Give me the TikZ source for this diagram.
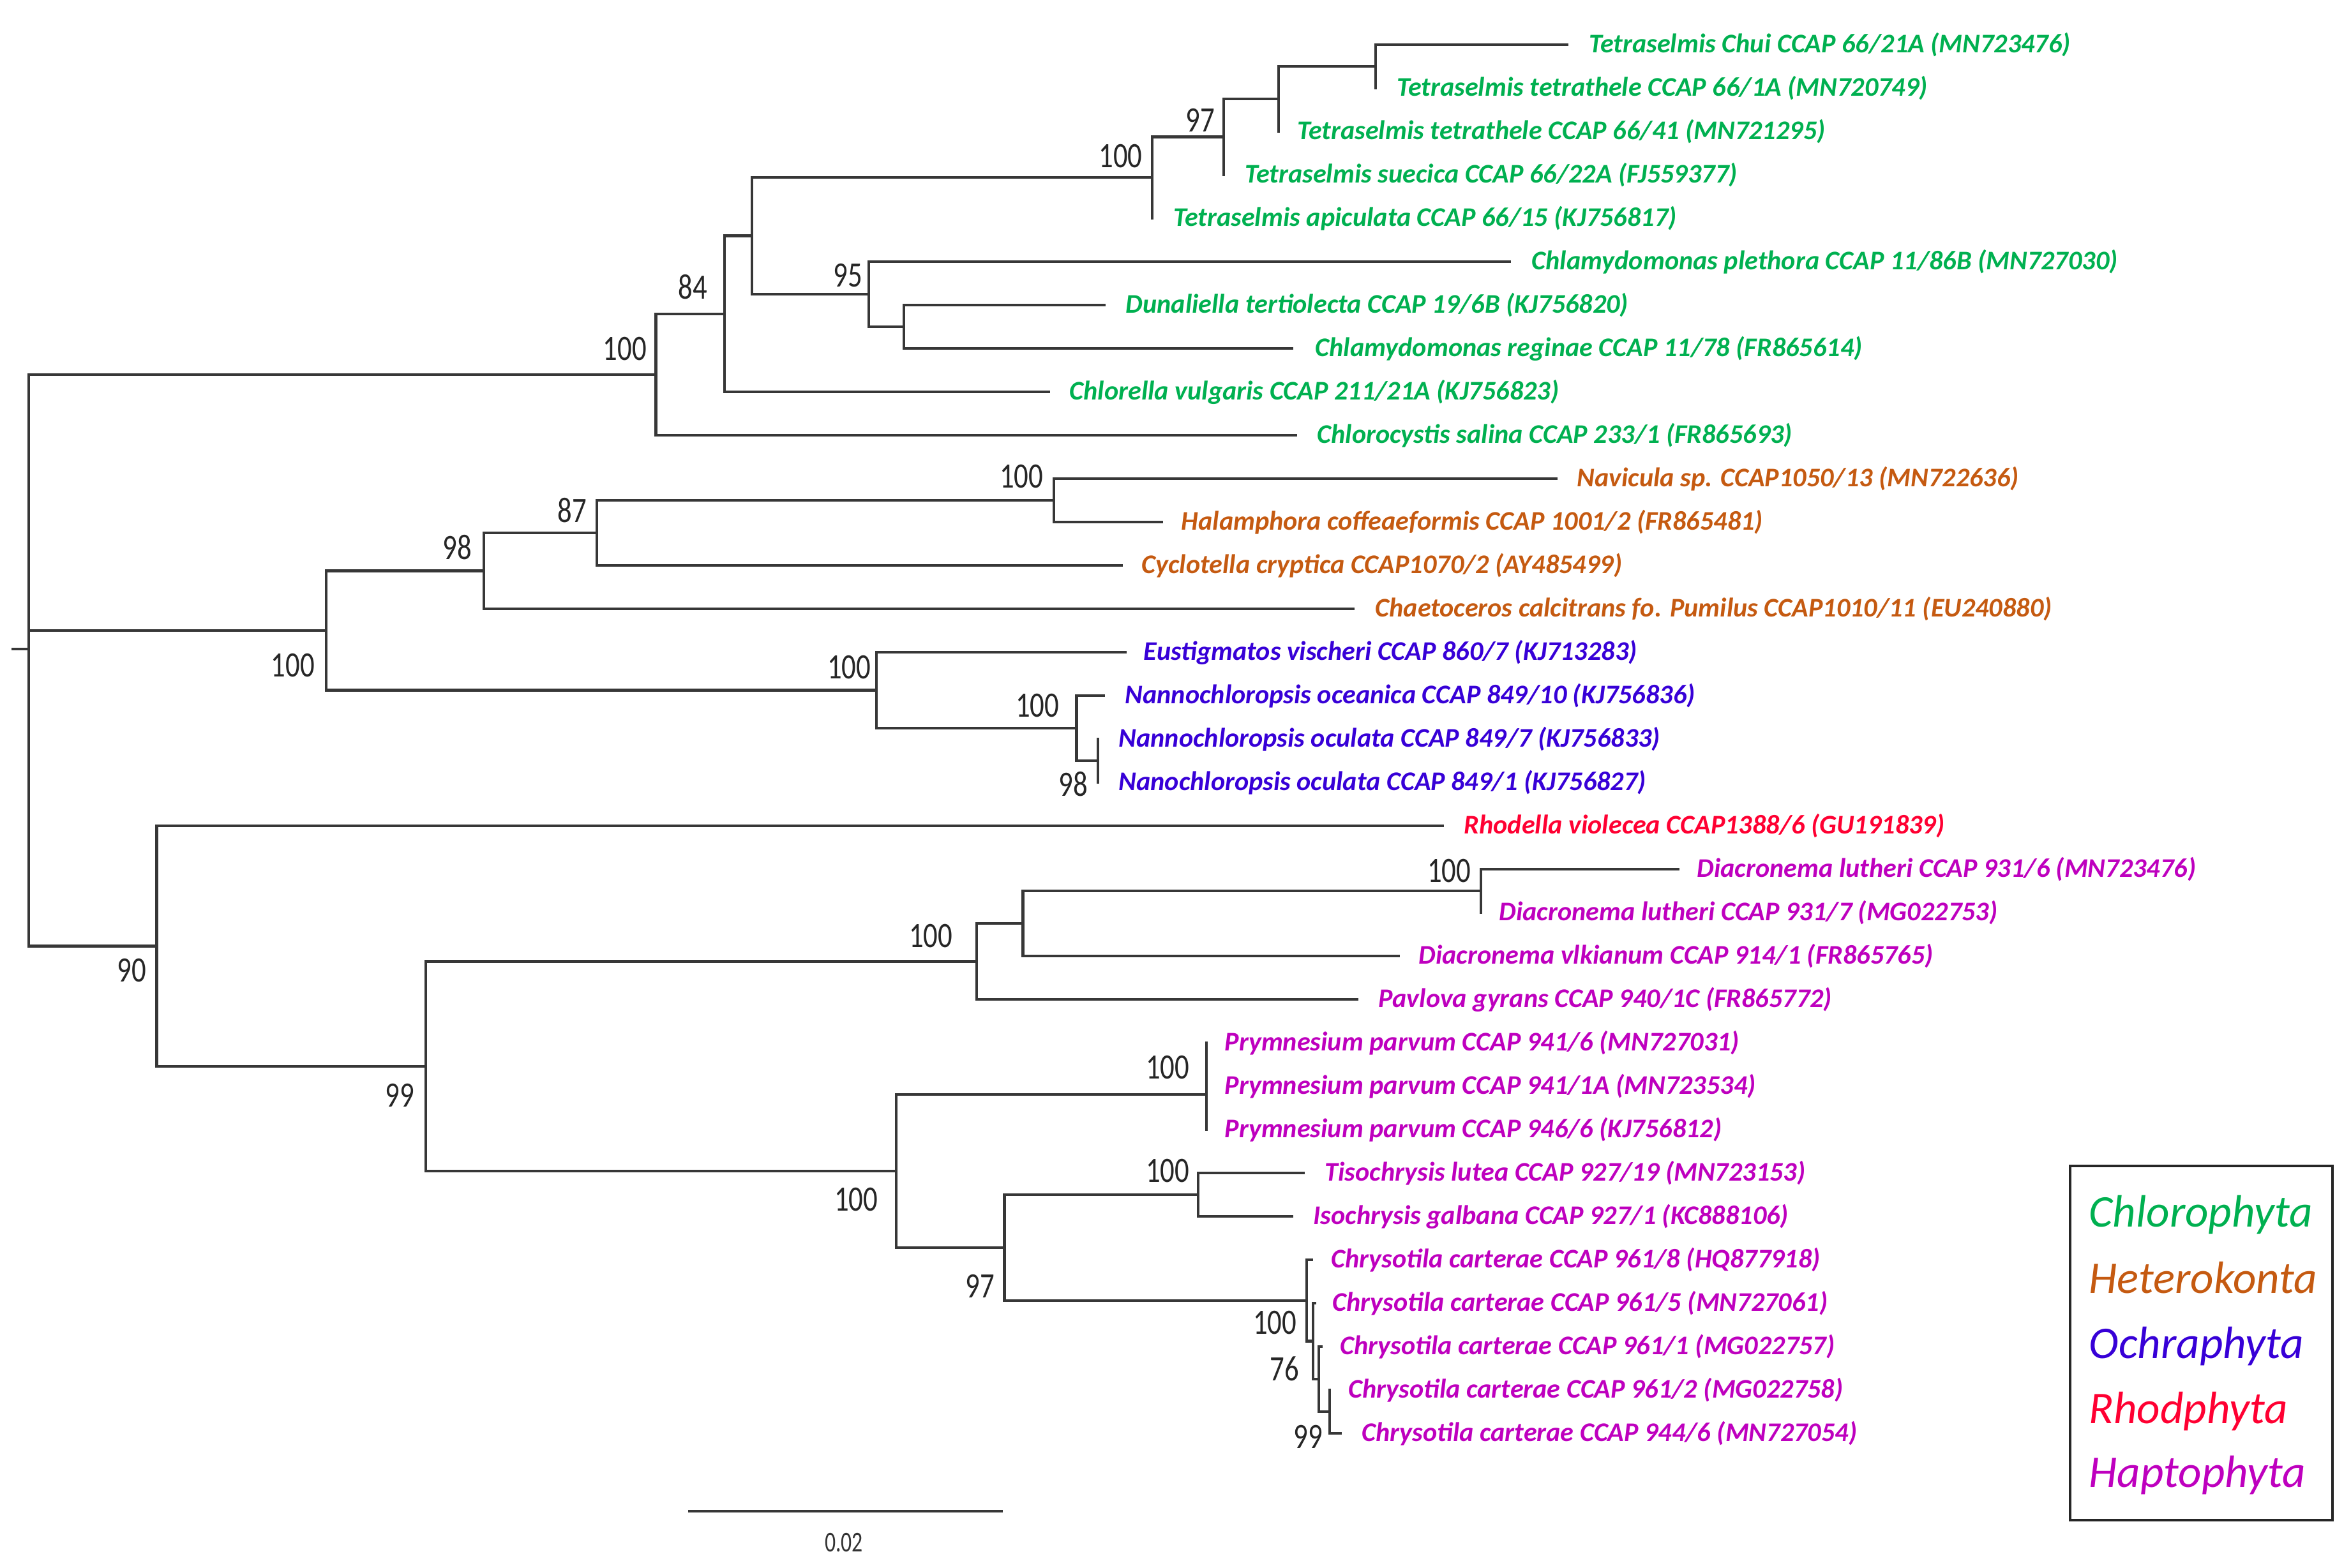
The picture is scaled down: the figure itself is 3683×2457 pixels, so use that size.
\documentclass[tikz,border=0pt]{standalone}
\usepackage{fontspec}
\setmainfont{Carlito}
\newfontfamily\bsfam[FakeStretch=0.8]{Carlito}
\newfontfamily\scfam[FakeStretch=0.75]{Carlito}
\newcommand\leaffont{\fontsize{12pt}{14pt}\selectfont\bfseries\itshape}
\newcommand\bsfont{\bsfam\fontsize{15.9pt}{18pt}\selectfont}
\newcommand\legfont{\fontsize{20.2pt}{24pt}\selectfont\itshape}
\definecolor{treegray}{RGB}{55,55,55}
\definecolor{cgreen}{RGB}{0,176,80}
\definecolor{corange}{RGB}{197,90,17}
\definecolor{cblue}{RGB}{55,0,215}
\definecolor{cred}{RGB}{255,0,50}
\definecolor{cmag}{RGB}{190,0,190}
\tikzset{
  br/.style={draw=treegray, line width=1.2pt, line cap=rect},
  lf/.style={anchor=base west, inner sep=0pt, font=\leaffont},
  bs/.style={anchor=center, inner sep=0pt, font=\bsfont, text=black!85},
  lg/.style={anchor=base west, inner sep=0pt, font=\legfont},
}
\begin{document}
\begin{tikzpicture}[x=0.01cm,y=-0.01cm]
\useasboundingbox (0,0) rectangle (3683,2457);
% internal nodes
\coordinate (root) at (45,1017);
\coordinate (rs) at (20,1017);
\coordinate (CH) at (1027.5,587);
\coordinate (C0) at (1135,492);
\coordinate (C1) at (1178,369.5);
\coordinate (T1) at (1805,278);
\coordinate (T2) at (1917,214.5);
\coordinate (T3) at (2003,155);
\coordinate (T4) at (2155,104);
\coordinate (C2) at (1361,461);
\coordinate (C3) at (1416,512);
\coordinate (HO) at (511,988);
\coordinate (H1) at (758,894.5);
\coordinate (H2) at (935,835);
\coordinate (H3) at (1651,784);
\coordinate (O1) at (1373,1081.5);
\coordinate (O2) at (1686.5,1141);
\coordinate (O3) at (1720,1192);
\coordinate (R) at (245.5,1482.5);
\coordinate (HP) at (667,1671);
\coordinate (P1) at (1530,1506.5);
\coordinate (P2) at (1602.5,1447);
\coordinate (P3) at (2320,1396);
\coordinate (Y0) at (1404,1835);
\coordinate (Y1) at (1890,1715);
\coordinate (Y2) at (1573.5,1955);
\coordinate (Y3) at (1877,1872);
\coordinate (Z1) at (2047,2038);
\coordinate (Z2) at (2057,2101.5);
\coordinate (Z3) at (2066,2161);
\coordinate (Z4) at (2083,2212);
% leaf tips
\coordinate (t1) at (2455,70);
\coordinate (t2) at (2155,138);
\coordinate (t3) at (2003,206);
\coordinate (t4) at (1917,274);
\coordinate (t5) at (1805,342);
\coordinate (t6) at (2365,410);
\coordinate (t7) at (1730,478);
\coordinate (t8) at (2024,546);
\coordinate (t9) at (1643,614);
\coordinate (t10) at (2030,682);
\coordinate (t11) at (2438,750);
\coordinate (t12) at (1820,818);
\coordinate (t13) at (1757,886);
\coordinate (t14) at (2120,954);
\coordinate (t15) at (1763,1022);
\coordinate (t16) at (1729,1090);
\coordinate (t17) at (1720,1158);
\coordinate (t18) at (1720,1226);
\coordinate (t19) at (2260,1294);
\coordinate (t20) at (2629,1362);
\coordinate (t21) at (2320,1430);
\coordinate (t22) at (2191,1498);
\coordinate (t23) at (2126,1566);
\coordinate (t24) at (1890,1634);
\coordinate (t25) at (1890,1702);
\coordinate (t26) at (1890,1770);
\coordinate (t27) at (2042,1838);
\coordinate (t28) at (2024,1906);
\coordinate (t29) at (2055,1974);
\coordinate (t30) at (2060,2042);
\coordinate (t31) at (2070,2110);
\coordinate (t32) at (2083,2178);
\coordinate (t33) at (2100,2246);
% branches
\draw[br] (rs) -- (root);
\draw[br] (root) |- (CH); \draw[br] (root) |- (HO); \draw[br] (root) |- (R);
\draw[br] (CH) |- (C0); \draw[br] (CH) |- (t10);
\draw[br] (C0) |- (C1); \draw[br] (C0) |- (t9);
\draw[br] (C1) |- (T1); \draw[br] (C1) |- (C2);
\draw[br] (T1) |- (T2); \draw[br] (T1) |- (t5);
\draw[br] (T2) |- (T3); \draw[br] (T2) |- (t4);
\draw[br] (T3) |- (T4); \draw[br] (T3) |- (t3);
\draw[br] (T4) |- (t1); \draw[br] (T4) |- (t2);
\draw[br] (C2) |- (t6); \draw[br] (C2) |- (C3);
\draw[br] (C3) |- (t7); \draw[br] (C3) |- (t8);
\draw[br] (HO) |- (H1); \draw[br] (HO) |- (O1);
\draw[br] (H1) |- (H2); \draw[br] (H1) |- (t14);
\draw[br] (H2) |- (H3); \draw[br] (H2) |- (t13);
\draw[br] (H3) |- (t11); \draw[br] (H3) |- (t12);
\draw[br] (O1) |- (t15); \draw[br] (O1) |- (O2);
\draw[br] (O2) |- (t16); \draw[br] (O2) |- (O3);
\draw[br] (O3) |- (t17); \draw[br] (O3) |- (t18);
\draw[br] (R) |- (t19); \draw[br] (R) |- (HP);
\draw[br] (HP) |- (P1); \draw[br] (HP) |- (Y0);
\draw[br] (P1) |- (P2); \draw[br] (P1) |- (t23);
\draw[br] (P2) |- (P3); \draw[br] (P2) |- (t22);
\draw[br] (P3) |- (t20); \draw[br] (P3) |- (t21);
\draw[br] (Y0) |- (Y1); \draw[br] (Y0) |- (Y2);
\draw[br] (Y1) |- (t24); \draw[br] (Y1) |- (t26);
\draw[br] (Y2) |- (Y3); \draw[br] (Y2) |- (Z1);
\draw[br] (Y3) |- (t27); \draw[br] (Y3) |- (t28);
\draw[br] (Z1) |- (t29); \draw[br] (Z1) |- (Z2);
\draw[br] (Z2) |- (t30); \draw[br] (Z2) |- (Z3);
\draw[br] (Z3) |- (t31); \draw[br] (Z3) |- (Z4);
\draw[br] (Z4) |- (t32); \draw[br] (Z4) |- (t33);
% leaf labels
\node[lf,text=cgreen] (l1) at (2489,82) {Tetraselmis Chui CCAP 66/21A (MN723476)};
\node[lf,text=cgreen] (l2) at (2188,150) {Tetraselmis tetrathele CCAP 66/1A (MN720749)};
\node[lf,text=cgreen] (l3) at (2032,218) {Tetraselmis tetrathele CCAP 66/41 (MN721295)};
\node[lf,text=cgreen] (l4) at (1950,286) {Tetraselmis suecica CCAP 66/22A (FJ559377)};
\node[lf,text=cgreen] (l5) at (1838,354) {Tetraselmis apiculata CCAP 66/15 (KJ756817)};
\node[lf,text=cgreen] (l6) at (2399,422) {Chlamydomonas plethora CCAP 11/86B (MN727030)};
\node[lf,text=cgreen] (l7) at (1763,490) {Dunaliella tertiolecta CCAP 19/6B (KJ756820)};
\node[lf,text=cgreen] (l8) at (2060,558) {Chlamydomonas reginae CCAP 11/78 (FR865614)};
\node[lf,text=cgreen] (l9) at (1675,626) {Chlorella vulgaris CCAP 211/21A (KJ756823)};
\node[lf,text=cgreen] (l10) at (2063,694) {Chlorocystis salina CCAP 233/1 (FR865693)};
\node[lf,text=corange] (l11) at (2470,762) {Navicula sp. CCAP1050/13 (MN722636)};
\node[lf,text=corange] (l12) at (1850,830) {Halamphora coffeaeformis CCAP 1001/2 (FR865481)};
\node[lf,text=corange] (l13) at (1788,898) {Cyclotella cryptica CCAP1070/2 (AY485499)};
\node[lf,text=corange] (l14) at (2154,966) {Chaetoceros calcitrans fo. Pumilus CCAP1010/11 (EU240880)};
\node[lf,text=cblue] (l15) at (1791,1034) {Eustigmatos vischeri CCAP 860/7 (KJ713283)};
\node[lf,text=cblue] (l16) at (1762,1102) {Nannochloropsis oceanica CCAP 849/10 (KJ756836)};
\node[lf,text=cblue] (l17) at (1752,1170) {Nannochloropsis oculata CCAP 849/7 (KJ756833)};
\node[lf,text=cblue] (l18) at (1752,1238) {Nanochloropsis oculata CCAP 849/1 (KJ756827)};
\node[lf,text=cred] (l19) at (2293,1306) {Rhodella violecea CCAP1388/6 (GU191839)};
\node[lf,text=cmag] (l20) at (2658,1374) {Diacronema lutheri CCAP 931/6 (MN723476)};
\node[lf,text=cmag] (l21) at (2348,1442) {Diacronema lutheri CCAP 931/7 (MG022753)};
\node[lf,text=cmag] (l22) at (2222,1510) {Diacronema vlkianum CCAP 914/1 (FR865765)};
\node[lf,text=cmag] (l23) at (2159,1578) {Pavlova gyrans CCAP 940/1C (FR865772)};
\node[lf,text=cmag] (l24) at (1918,1646) {Prymnesium parvum CCAP 941/6 (MN727031)};
\node[lf,text=cmag] (l25) at (1918,1714) {Prymnesium parvum CCAP 941/1A (MN723534)};
\node[lf,text=cmag] (l26) at (1918,1782) {Prymnesium parvum CCAP 946/6 (KJ756812)};
\node[lf,text=cmag] (l27) at (2075,1850) {Tisochrysis lutea CCAP 927/19 (MN723153)};
\node[lf,text=cmag] (l28) at (2057,1918) {Isochrysis galbana CCAP 927/1 (KC888106)};
\node[lf,text=cmag] (l29) at (2085,1986) {Chrysotila carterae CCAP 961/8 (HQ877918)};
\node[lf,text=cmag] (l30) at (2087,2054) {Chrysotila carterae CCAP 961/5 (MN727061)};
\node[lf,text=cmag] (l31) at (2099,2122) {Chrysotila carterae CCAP 961/1 (MG022757)};
\node[lf,text=cmag] (l32) at (2112,2190) {Chrysotila carterae CCAP 961/2 (MG022758)};
\node[lf,text=cmag] (l33) at (2133,2258) {Chrysotila carterae CCAP 944/6 (MN727054)};
% bootstrap values
\node[bs] (bCH) at (979,546.5) {100};
\node[bs] (bC0) at (1085,450) {84};
\node[bs] (bT1) at (1755.5,245) {100};
\node[bs] (bT2) at (1880,188) {97};
\node[bs] (bC2) at (1328,431.5) {95};
\node[bs] (bH2) at (896,800) {87};
\node[bs] (bH3) at (1600,747) {100};
\node[bs] (bH1) at (716,857.5) {98};
\node[bs] (bHO) at (459,1043) {100};
\node[bs] (bO1) at (1330,1046) {100};
\node[bs] (bO2) at (1625,1106) {100};
\node[bs] (bO3) at (1681,1229) {98};
\node[bs] (bR) at (206,1521) {90};
\node[bs] (bHP) at (626,1716) {99};
\node[bs] (bP1) at (1458,1467) {100};
\node[bs] (bP3) at (2270,1365) {100};
\node[bs] (bY0) at (1341,1880) {100};
\node[bs] (bY1) at (1829,1673) {100};
\node[bs] (bY3) at (1829,1835) {100};
\node[bs] (bY2) at (1535,2015) {97};
\node[bs] (bZ1) at (1997,2073) {100};
\node[bs] (bZ3) at (2012,2145) {76};
\node[bs] (bZ4) at (2049,2251) {99};
% scale bar
\coordinate (sb1) at (1080,2368);
\coordinate (sb2) at (1569,2368);
\draw[br] (sb1) -- (sb2);
\node[inner sep=0pt, text=black!80, font=\scfam\fontsize{12.8pt}{14pt}\selectfont] (sbl) at (1322,2417) {0.02};
% legend
\node[draw=black!85, line width=1pt, minimum width=4.11cm, minimum height=5.55cm, inner sep=0pt, anchor=north west] (legbox) at (3241,1825) {};
\node[lg,text=cgreen] (g1) at (3272,1922) {Chlorophyta};
\node[lg,text=corange] (g2) at (3272,2026) {Heterokonta};
\node[lg,text=cblue] (g3) at (3272,2128) {Ochraphyta};
\node[lg,text=cred] (g4) at (3272,2230) {Rhodphyta};
\node[lg,text=cmag] (g5) at (3272,2330) {Haptophyta};
\end{tikzpicture}
\end{document}
